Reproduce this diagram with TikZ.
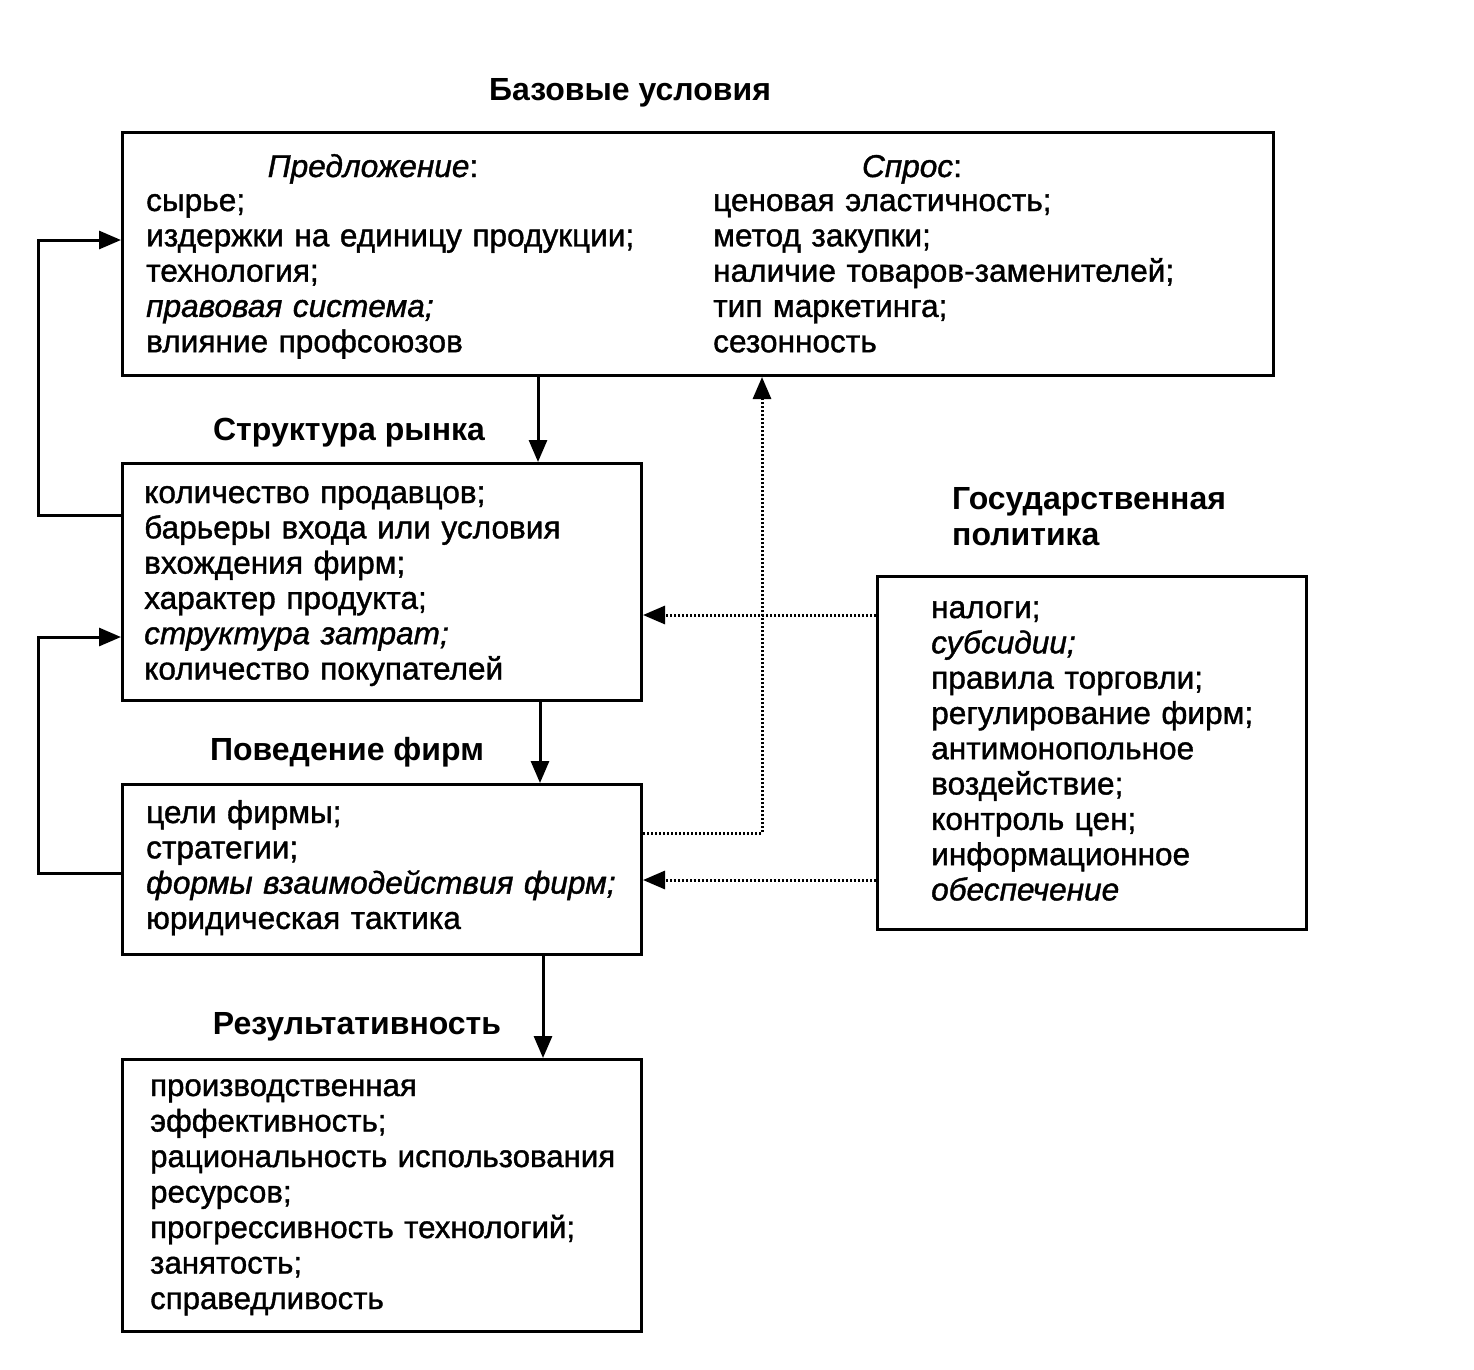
\documentclass[tikz,border=0pt]{standalone}
\usepackage{fontspec}
\setmainfont{Liberation Sans}
\newfontfamily\heavyfont[FakeBold=1.2]{Liberation Sans}
\usetikzlibrary{arrows.meta}
\begin{document}
\begin{tikzpicture}[x=1pt,y=-1pt,
  box/.style={draw, line width=3pt, rectangle, inner sep=0pt, anchor=north west},
  txt/.style={font=\heavyfont\fontsize{31.6}{35.3}\selectfont, anchor=base west, align=left, inner sep=0pt, text width=620pt},
  ttl/.style={font=\fontsize{32}{36}\selectfont\bfseries, anchor=base, inner sep=0pt},
  conn/.style={line width=3pt, -{Triangle[length=22pt,width=18pt]}},
  dotconn/.style={line width=3pt, dash pattern=on 2pt off 2pt, -{Triangle[length=22pt,width=18pt]}}]
\useasboundingbox (0,0) rectangle (1474,1369);

% titles
\node[ttl] (t1) at (630,100) {Базовые условия};
\node[ttl] (t2) at (349,440) {Структура рынка};
\node[ttl] (t3) at (347,760) {Поведение фирм};
\node[ttl] (t4) at (357,1034) {Результативность};
\node[ttl, anchor=base west, align=left] (t5) at (952,545) {Государственная\\политика};

% boxes
\node[box, minimum width=1151pt, minimum height=243pt] (base) at (121,131) {};
\node[box, minimum width=519pt, minimum height=237pt] (market) at (121,462) {};
\node[box, minimum width=519pt, minimum height=170pt] (conduct) at (121,783) {};
\node[box, minimum width=429pt, minimum height=353pt] (gov) at (876,575) {};
\node[box, minimum width=519pt, minimum height=272pt] (perf) at (121,1058) {};

% box texts
\node[txt, anchor=base, text width=, align=center] (h1) at (373,177) {\textit{Предложение}:};
\node[txt, anchor=base, text width=, align=center] (h2) at (912,177) {\textit{Спрос}:};
\node[txt] (s1) at (146,211) {сырье;\\издержки на единицу продукции;\\технология;\\\textit{правовая система;}\\влияние профсоюзов};
\node[txt] (s2) at (713,211) {ценовая эластичность;\\метод закупки;\\наличие товаров-заменителей;\\тип маркетинга;\\сезонность};
\node[txt] (m1) at (144,503) {количество продавцов;\\барьеры входа или условия\\вхождения фирм;\\характер продукта;\\\textit{структура затрат;}\\количество покупателей};
\node[txt] (c1) at (146,823) {цели фирмы;\\стратегии;\\\textit{формы взаимодействия фирм;}\\юридическая тактика};
\node[txt] (g1) at (931,618) {налоги;\\\textit{субсидии;}\\правила торговли;\\регулирование фирм;\\антимонопольное\\воздействие;\\контроль цен;\\информационное\\\textit{обеспечение}};
\node[txt, font=\heavyfont\fontsize{31.2}{35.5}\selectfont] (p1) at (150,1096) {производственная\\эффективность;\\рациональность использования\\ресурсов;\\прогрессивность технологий;\\занятость;\\справедливость};

% main flow
\draw[conn] (538,0 |- base.south) -- (538,0 |- market.north);
\draw[conn] (540,0 |- market.south) -- (540,0 |- conduct.north);
\draw[conn] (543,0 |- conduct.south) -- (543,0 |- perf.north);

% feedback loops
\draw[conn] (market.west |- 0,515) -- (38,515) -- (38,240) -- (base.west |- 0,240);
\draw[conn] (conduct.west |- 0,873) -- (38,873) -- (38,637) -- (market.west |- 0,637);

% dotted
\draw[dotconn] (conduct.east |- 0,833) -- (762,833) -- (762,0 |- base.south);
\draw[dotconn] (gov.west |- 0,615) -- (market.east |- 0,615);
\draw[dotconn] (gov.west |- 0,880) -- (conduct.east |- 0,880);
\end{tikzpicture}
\end{document}
